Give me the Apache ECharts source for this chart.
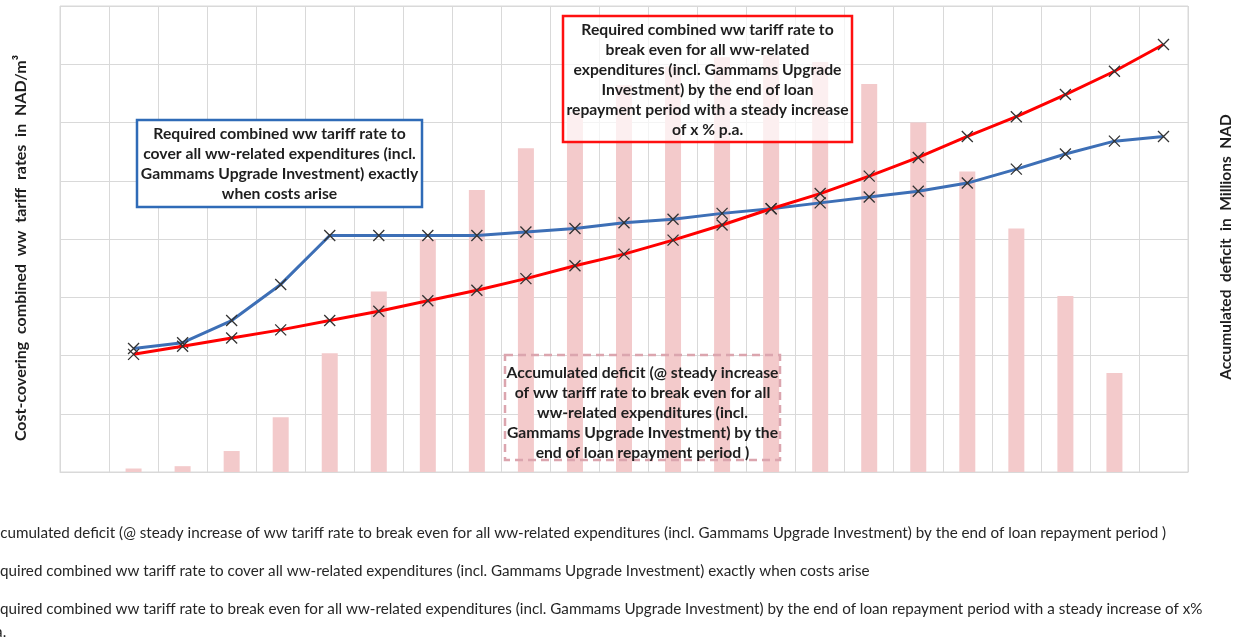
<!DOCTYPE html>
<html>
<head>
<meta charset="utf-8">
<script src="https://cdn.jsdelivr.net/npm/echarts@6/dist/echarts.min.js"></script>
<style>
  html, body { margin: 0; padding: 0; background: #ffffff; }
  #chart { width: 1238px; height: 637px; }
</style>
</head>
<body>
<div id="chart"></div>
<script>
// Periods along the x axis (labels are not printed)
const periods = ['0','1','2','3','4','5','6','7','8','9','10','11','12','13','14','15','16','17','18','19','20','21','22'];

// Accumulated deficit, millions NAD (right axis)
const deficit = [null, 3, 5, 18, 47, 102, 155, 200, 242, 278, 309, 332, 348, 356, 358, 352, 333, 300, 258, 209, 151, 85, null];

// Tariff covering all ww-related expenditures exactly when costs arise, NAD/m³
const tariffWhenArise = [null, 10.6, 11.1, 13.0, 16.1, 20.3, 20.3, 20.3, 20.3, 20.6, 20.9, 21.4, 21.7, 22.2, 22.6, 23.1, 23.6, 24.1, 24.8, 26.0, 27.3, 28.4, 28.8];

// Tariff breaking even by the end of the loan repayment period, steady increase, NAD/m³
const tariffSteady = [null, 10.1, 10.8, 11.5, 12.2, 13.0, 13.8, 14.7, 15.6, 16.6, 17.7, 18.7, 19.9, 21.2, 22.6, 23.9, 25.4, 27.0, 28.8, 30.5, 32.4, 34.4, 36.7];

const nameDeficit = 'Accumulated deficit (@ steady increase of ww tariff rate to break even for all ww-related expenditures (incl. Gammams Upgrade Investment) by the end of loan repayment period )';
const nameWhenArise = 'Required combined ww tariff rate to cover all ww-related expenditures (incl. Gammams Upgrade Investment) exactly when costs arise';
const nameSteady = 'Required combined ww tariff rate to break even for all ww-related expenditures (incl. Gammams Upgrade Investment) by the end of loan repayment period with a steady increase of x%\np.a.';

const FONT = 'Lato, "Open Sans", sans-serif';
const GRID = '#d9d9d9';
const CROSS = 'path://M0,0L10,10M10,0L0,10';

const chart = echarts.init(document.getElementById('chart'));

// Framed annotation: rectangle plus centred multi-line caption
function noteBox(x, y, w, h, textTop, lines, stroke, dash, fill) {
  return {
    type: 'group', x: x, y: y, z: 100,
    children: [
      { type: 'rect', z: 100, shape: { x: 0, y: 0, width: w, height: h },
        style: { fill: fill, stroke: stroke, lineWidth: 2.5, lineDash: dash } },
      { type: 'text', z: 101, x: w / 2, y: textTop,
        style: { text: lines.join('\n'), align: 'center', verticalAlign: 'top',
                 font: 'bold 15.7px ' + FONT, lineHeight: 20, fill: '#1e1e1e' } }
    ]
  };
}

chart.setOption({
  backgroundColor: '#ffffff',
  animation: false,
  grid: { left: 60, right: 50, top: 6, bottom: 165, outerBoundsMode: 'none',
          show: true, borderColor: GRID, borderWidth: 1 },
  legend: {
    orient: 'vertical',
    left: -48,
    top: 522,
    height: 160,
    padding: 0,
    itemWidth: 25,
    itemHeight: 14,
    itemGap: 15,
    textStyle: { fontFamily: FONT, fontSize: 15.2, color: '#262626', lineHeight: 23 },
    data: [nameDeficit, nameWhenArise, nameSteady]
  },
  xAxis: {
    type: 'category',
    data: periods,
    boundaryGap: true,
    axisTick: { show: false },
    axisLabel: { show: false },
    axisLine: { lineStyle: { color: GRID } },
    splitLine: { show: true, lineStyle: { color: GRID, width: 1 } }
  },
  yAxis: [
    {
      type: 'value', min: 0, max: 40, interval: 5,
      name: 'Cost-covering  combined  ww  tariff  rates  in  NAD/m³',
      nameLocation: 'middle', nameGap: 31, nameRotate: 90,
      nameTextStyle: { fontFamily: FONT, fontWeight: 'bold', fontSize: 16, color: '#1e1e1e',
                       padding: [0, 18, 0, 0] },
      axisLabel: { show: false }, axisTick: { show: false }, axisLine: { show: false },
      splitLine: { lineStyle: { color: GRID, width: 1 } }
    },
    {
      type: 'value', min: 0, max: 400, interval: 50,
      name: 'Accumulated  deficit  in  Millions  NAD',
      nameLocation: 'middle', nameGap: 30, nameRotate: 90,
      nameTextStyle: { fontFamily: FONT, fontWeight: 'bold', fontSize: 15.5, color: '#1e1e1e',
                       padding: [0, 16, 0, 0] },
      axisLabel: { show: false }, axisTick: { show: false }, axisLine: { show: false },
      splitLine: { show: false }
    }
  ],
  series: [
    {
      name: nameDeficit, type: 'bar', yAxisIndex: 1, data: deficit,
      barWidth: 16, z: 1,
      itemStyle: { color: '#f3cacb' }
    },
    {
      name: nameWhenArise, type: 'line', yAxisIndex: 0, data: tariffWhenArise,
      z: 3, symbol: CROSS, symbolSize: 11, showAllSymbol: true,
      lineStyle: { color: '#3d6fb6', width: 3 },
      itemStyle: { color: '#3d6fb6', borderColor: '#333333', borderWidth: 1.3 }
    },
    {
      name: nameSteady, type: 'line', yAxisIndex: 0, data: tariffSteady,
      z: 4, symbol: CROSS, symbolSize: 11, showAllSymbol: true,
      lineStyle: { color: '#ff0000', width: 3 },
      itemStyle: { color: '#ff0000', borderColor: '#333333', borderWidth: 1.3 }
    }
  ],
  graphic: {
    elements: [
      noteBox(137, 120, 285, 87, 4, [
        'Required combined ww tariff rate to',
        'cover all ww-related expenditures (incl.',
        'Gammams Upgrade Investment) exactly',
        'when costs arise'
      ], '#2f6bb7', null, '#ffffff'),
      noteBox(563, 16, 289, 126, 4, [
        'Required combined ww tariff rate to',
        'break even for all ww-related',
        'expenditures (incl. Gammams Upgrade',
        'Investment) by the end of loan',
        'repayment period with a steady increase',
        'of x % p.a.'
      ], '#ff1010', null, 'rgba(255,255,255,0.7)'),
      noteBox(505, 355, 275, 105, 8, [
        'Accumulated deficit (@ steady increase',
        'of ww tariff rate to break even for all',
        'ww-related expenditures (incl.',
        'Gammams Upgrade Investment) by the',
        'end of loan repayment period )'
      ], '#dba5ae', [8, 5], 'rgba(255,255,255,0)')
    ]
  }
});
</script>
</body>
</html>
